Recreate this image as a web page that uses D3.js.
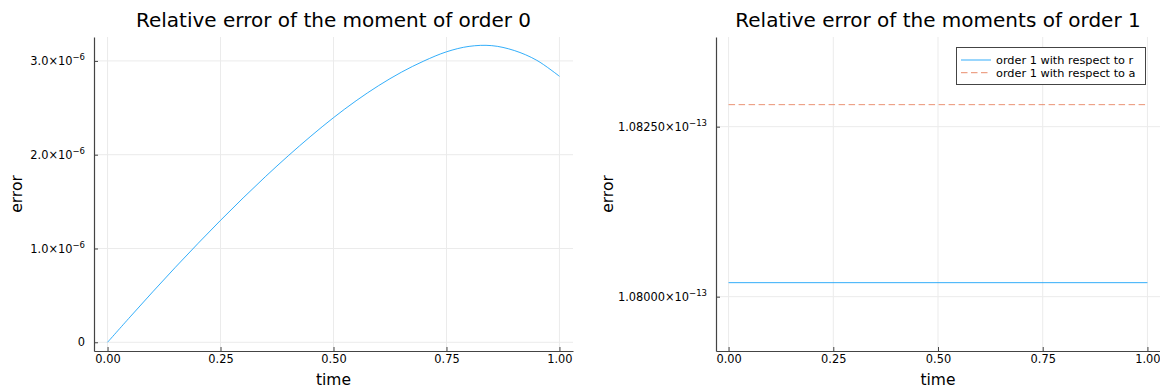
<!DOCTYPE html>
<html>
<head>
<meta charset="utf-8">
<script src="https://cdn.jsdelivr.net/npm/d3@7"></script>
<style>
  body { margin: 0; background: #fff; }
  text { font-family: "DejaVu Sans", sans-serif; fill: #000; }
</style>
</head>
<body>
<div id="chart"></div>
<script>
// time samples and the order-0 relative error
var timeVals = [0, 0.05, 0.1, 0.15, 0.2, 0.25, 0.3, 0.35, 0.4, 0.45, 0.5,
                0.55, 0.6, 0.65, 0.7, 0.75, 0.8, 0.85, 0.9, 0.95, 1.0];
var order0Err = [0, 0.271e-6, 0.538e-6, 0.799e-6, 1.053e-6, 1.300e-6, 1.539e-6, 1.769e-6, 1.989e-6, 2.198e-6, 2.395e-6,
                 2.575e-6, 2.737e-6, 2.879e-6, 2.999e-6, 3.097e-6, 3.155e-6, 3.163e-6, 3.111e-6, 3.006e-6, 2.836e-6];

// order-1 errors are flat over time
var order1Times = [0, 1];
var order1R = [1.080206e-13, 1.080206e-13];
var order1A = [1.082824e-13, 1.082824e-13];

var xTicks = [0, 0.25, 0.5, 0.75, 1.0];
var leftYTicks = [0, 1e-6, 2e-6, 3e-6];
var rightYTicks = [1.08e-13, 1.0825e-13];
var legendLabels = ["order 1 with respect to r", "order 1 with respect to a"];

var svgWidth = 1160;
var svgHeight = 389;

var svg = d3.select("#chart")
  .append("svg")
  .attr("width", svgWidth)
  .attr("height", svgHeight);

var blue = "#009af9";
var orange = "#e36f47";

// writes "m.mm×10^e" with a raised exponent
function sciLabel(sel, v, digits, exp) {
  sel.text(null);
  if (v === 0) { sel.text("0"); return; }
  var m = v / Math.pow(10, exp);
  sel.append("tspan").text(m.toFixed(digits) + "×10");
  sel.append("tspan")
    .attr("dy", "-0.55em")
    .attr("font-size", "8.5px")
    .text("−" + (-exp));
}

function drawPanel(box, yDomain, yTicks, digits, exp, title) {
  var x = d3.scaleLinear().domain([-0.03, 1.03]).range([box.left, box.right]);
  var y = d3.scaleLinear().domain(yDomain).range([box.bottom, box.top]);
  var g = svg.append("g");

  // grid
  g.selectAll(".vgrid").data(xTicks).enter().append("line")
    .attr("x1", d => x(d)).attr("x2", d => x(d))
    .attr("y1", box.top).attr("y2", box.bottom)
    .attr("stroke", "#ebebeb").attr("stroke-width", 1);
  g.selectAll(".hgrid").data(yTicks).enter().append("line")
    .attr("x1", box.left).attr("x2", box.right)
    .attr("y1", d => y(d)).attr("y2", d => y(d))
    .attr("stroke", "#ebebeb").attr("stroke-width", 1);

  // axes, ticks point inward
  var xAxis = g.append("g")
    .attr("transform", `translate(0, ${box.bottom})`)
    .call(d3.axisBottom(x).tickValues(xTicks).tickSize(-4).tickSizeOuter(0)
      .tickPadding(10).tickFormat(d3.format(".2f")));
  var yAxis = g.append("g")
    .attr("transform", `translate(${box.left}, 0)`)
    .call(d3.axisLeft(y).tickValues(yTicks).tickSize(-4).tickSizeOuter(0).tickPadding(9));

  [xAxis, yAxis].forEach(function(a) {
    a.select(".domain").attr("stroke", "#444").attr("stroke-width", 1.2);
    a.selectAll(".tick line").attr("stroke", "#444");
    a.selectAll(".tick text").attr("font-size", "11.4px").attr("fill", "#000")
      .style("font-family", "DejaVu Sans");
  });
  xAxis.selectAll(".tick text").attr("dy", "0.2em");
  yAxis.selectAll(".tick text").each(function(d) {
    sciLabel(d3.select(this), d, digits, exp);
  });

  // title and axis labels
  svg.append("text")
    .attr("x", (box.left + box.right) / 2).attr("y", 27)
    .attr("text-anchor", "middle").attr("font-size", "20px")
    .text(title);
  svg.append("text")
    .attr("x", (box.left + box.right) / 2).attr("y", 385)
    .attr("text-anchor", "middle").attr("font-size", "15.5px")
    .text("time");
  svg.append("text")
    .attr("transform", `translate(${box.labelX}, ${(box.top + box.bottom) / 2}) rotate(-90)`)
    .attr("text-anchor", "middle").attr("font-size", "15.5px")
    .text("error");

  return {x: x, y: y, g: g};
}

// left panel
var left = drawPanel({left: 94, right: 573, top: 37, bottom: 351, labelX: 22},
  [-0.093e-6, 3.255e-6], leftYTicks, 1, -6, "Relative error of the moment of order 0");

var line0 = d3.line()
  .x((d, i) => left.x(timeVals[i]))
  .y(d => left.y(d))
  .curve(d3.curveCatmullRom);

left.g.append("path")
  .datum(order0Err)
  .attr("d", line0)
  .attr("fill", "none")
  .attr("stroke", blue)
  .attr("stroke-opacity", 0.8)
  .attr("stroke-width", 1);

// right panel
var right = drawPanel({left: 716, right: 1160, top: 37, bottom: 351, labelX: 613},
  [1.079201e-13, 1.083819e-13], rightYTicks, 5, -13, "Relative error of the moments of order 1");

var line1 = d3.line()
  .x((d, i) => right.x(order1Times[i]))
  .y(d => right.y(d));

right.g.append("path")
  .datum(order1R)
  .attr("d", line1)
  .attr("fill", "none")
  .attr("stroke", blue)
  .attr("stroke-opacity", 0.8)
  .attr("stroke-width", 1);

right.g.append("path")
  .datum(order1A)
  .attr("d", line1)
  .attr("fill", "none")
  .attr("stroke", orange)
  .attr("stroke-opacity", 0.75)
  .attr("stroke-width", 1)
  .attr("stroke-dasharray", "6.5,3.5");

// legend
var legend = svg.append("g");
legend.append("rect")
  .attr("x", 956.5).attr("y", 47.5).attr("width", 189).attr("height", 37)
  .attr("fill", "#fff").attr("stroke", "#444").attr("stroke-width", 1);

legendLabels.forEach(function(lbl, i) {
  var ly = 60 + i * 12.7;
  legend.append("line")
    .attr("x1", 961).attr("x2", 991)
    .attr("y1", ly).attr("y2", ly)
    .attr("stroke", i === 0 ? blue : orange)
    .attr("stroke-opacity", 0.8)
    .attr("stroke-width", 1)
    .attr("stroke-dasharray", i === 0 ? null : "6.5,3.5");
  legend.append("text")
    .attr("x", 996).attr("y", ly + 4)
    .attr("font-size", "11.3px")
    .text(lbl);
});
</script>
</body>
</html>
